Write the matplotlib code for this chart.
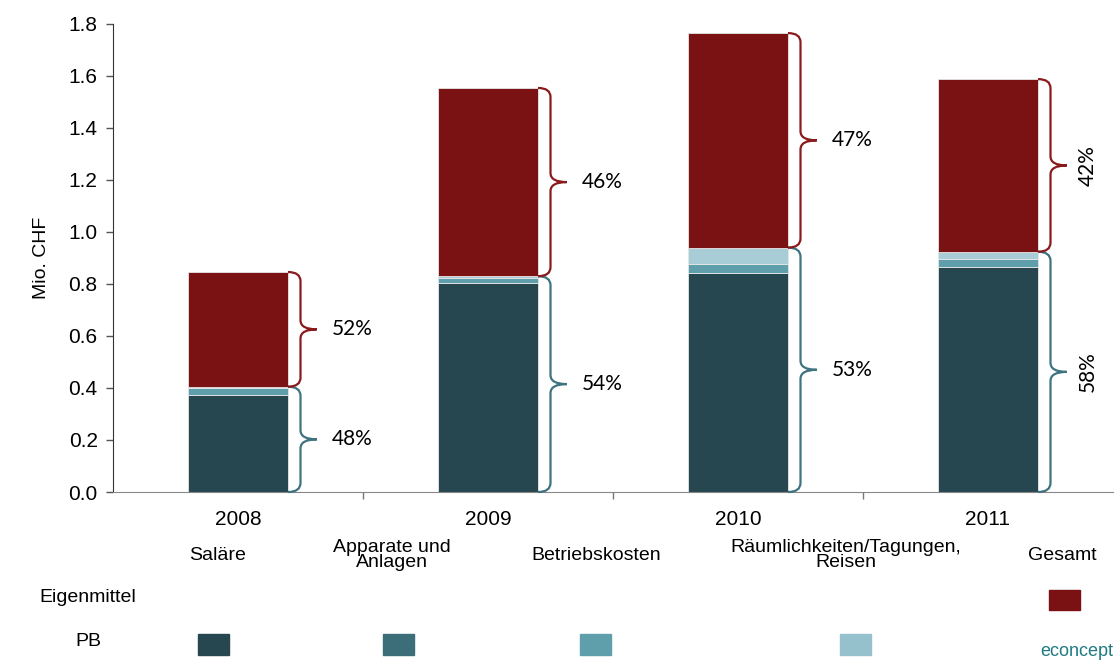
import matplotlib
matplotlib.use("Agg")
import matplotlib.pyplot as plt
from matplotlib.patches import Rectangle, PathPatch
from matplotlib.path import Path
import numpy as np

# Data (Mio. CHF)
years = ["2008", "2009", "2010", "2011"]
salaere = [0.373, 0.805, 0.841, 0.867]
apparate = [0.000, 0.000, 0.000, 0.000]
betriebskosten = [0.027, 0.017, 0.036, 0.029]
raeumlichkeiten = [0.005, 0.008, 0.063, 0.028]
eigenmittel = [0.441, 0.724, 0.825, 0.664]
pct_eigen = ["52%", "46%", "47%", "42%"]
pct_pb = ["48%", "54%", "53%", "58%"]

series_names = ["Saläre", "Apparate und\nAnlagen", "Betriebskosten",
                "Räumlichkeiten/Tagungen,\nReisen", "Gesamt"]
row_names = ["Eigenmittel", "PB"]

c_sal = "#26474f"
c_app = "#3b6e79"
c_bet = "#5f9fab"
c_rae = "#a8cdd6"
c_eig = "#7a1112"
c_brace_red = "#8a1b1d"
c_brace_pb = "#3f7380"

W, H = 1117, 661
fig = plt.figure(figsize=(W / 100, H / 100), dpi=100)
ax = fig.add_axes([113 / W, 1 - 492 / H, 1000 / W, 468 / H])

sans = ["Liberation Sans", "DejaVu Sans"]
lab = ["Lato", "DejaVu Sans"]

x = np.arange(len(years))
bw = 0.4
bottom = np.zeros(len(years))
for vals, col in [(salaere, c_sal), (apparate, c_app), (betriebskosten, c_bet),
                  (raeumlichkeiten, c_rae), (eigenmittel, c_eig)]:
    v = np.array(vals)
    ax.bar(x, v, bw, bottom=bottom, color=col, edgecolor="#e6e6e6",
           linewidth=0.6, zorder=2)
    bottom = bottom + v


def brace(ax, xc, y0, y1, color):
    x0 = xc + bw / 2
    x1 = x0 + 0.05
    x2 = x0 + 0.115
    h = 0.035
    ym = (y0 + y1) / 2
    verts = [(x0, y0), (x1, y0), (x1, y0 + h),
             (x1, ym - h), (x1, ym), (x2, ym),
             (x1, ym), (x1, ym + h),
             (x1, y1 - h), (x1, y1), (x0, y1)]
    codes = [Path.MOVETO, Path.CURVE3, Path.CURVE3,
             Path.LINETO, Path.CURVE3, Path.CURVE3,
             Path.CURVE3, Path.CURVE3,
             Path.LINETO, Path.CURVE3, Path.CURVE3]
    ax.add_patch(PathPatch(Path(verts, codes), facecolor="none",
                           edgecolor=color, linewidth=1.6, zorder=3,
                           clip_on=False))


for i in range(len(years)):
    pb = salaere[i] + apparate[i] + betriebskosten[i] + raeumlichkeiten[i]
    tot = pb + eigenmittel[i]
    brace(ax, x[i], 0, pb, c_brace_pb)
    brace(ax, x[i], pb, tot, c_brace_red)
    if i == len(years) - 1:
        ax.text(x[i] + 0.40, pb / 2, pct_pb[i], rotation=90, ha="center",
                va="center", fontsize=15, family=lab, clip_on=False)
        ax.text(x[i] + 0.40, (pb + tot) / 2, pct_eigen[i], rotation=90,
                ha="center", va="center", fontsize=15, family=lab, clip_on=False)
    else:
        ax.text(x[i] + 0.375, pb / 2, pct_pb[i], ha="left", va="center",
                fontsize=15, family=lab)
        ax.text(x[i] + 0.375, (pb + tot) / 2, pct_eigen[i], ha="left",
                va="center", fontsize=15, family=lab)

ax.set_xlim(-0.5, 3.5)
ax.set_ylim(0, 1.8)
ax.set_yticks(np.arange(0, 1.81, 0.2))
ax.set_yticklabels([f"{v:.1f}" for v in np.arange(0, 1.81, 0.2)],
                   family=sans, fontsize=15)
ax.set_xticks(x)
ax.set_xticklabels(years, family=sans, fontsize=15)
ax.set_xticks([0.5, 1.5, 2.5], minor=True)
ax.tick_params(axis="x", which="major", length=0, pad=13)
ax.tick_params(axis="x", which="minor", length=5, color="#777777", width=1)
ax.tick_params(axis="y", length=5, color="#555555", width=1, pad=6)
ax.spines["top"].set_visible(False)
ax.spines["right"].set_visible(False)
ax.spines["bottom"].set_color("#888888")
ax.spines["left"].set_color("#333333")
ax.set_ylabel("Mio. CHF", family=sans, fontsize=14, labelpad=13)

# Legend table below the chart
def fx(px):
    return px / W


def fy(py):
    return 1 - py / H


head_x = [218, 392, 596, 846, 1062]
for name, hx in zip(series_names, head_x):
    fig.text(fx(hx), fy(555), name, ha="center", va="center", fontsize=14,
             family=sans, linespacing=0.85)
fig.text(fx(88), fy(598), row_names[0], ha="center", va="center",
         fontsize=14, family=sans)
fig.text(fx(88), fy(641), row_names[1], ha="center", va="center",
         fontsize=14, family=sans)

fig.add_artist(Rectangle((fx(1049), fy(610)), 31 / W, 20 / H,
                         transform=fig.transFigure, color=c_eig))
for px, col in zip([198, 383, 580, 840], [c_sal, c_app, c_bet, "#95c1cc"]):
    fig.add_artist(Rectangle((fx(px), fy(655)), 31 / W, 21 / H,
                             transform=fig.transFigure, color=col))

fig.text(fx(1113), fy(652), "econcept", ha="right", va="center", fontsize=13,
         family=sans, color="#1f7a82")

fig.savefig("out.png", dpi=100)
